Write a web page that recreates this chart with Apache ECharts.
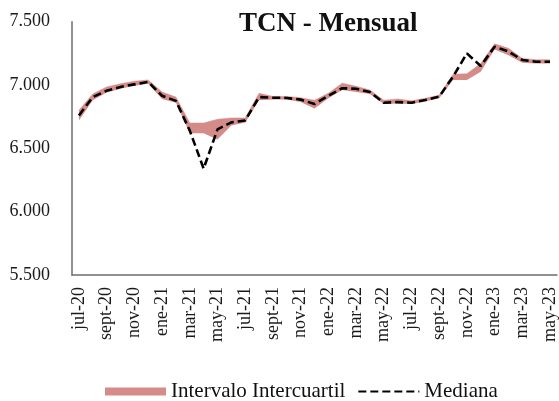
<!DOCTYPE html>
<html>
<head>
<meta charset="utf-8">
<script src="https://cdn.jsdelivr.net/npm/echarts@6/dist/echarts.min.js"></script>
<style>
  html, body { margin: 0; padding: 0; background: #fff; }
  #chart { width: 559px; height: 401px; }
</style>
</head>
<body>
<div id="chart"></div>
<script>
// meses (se muestra uno de cada dos)
const months = ['jul-20', 'ago-20', 'sept-20', 'oct-20', 'nov-20', 'dic-20',
  'ene-21', 'feb-21', 'mar-21', 'abr-21', 'may-21', 'jun-21',
  'jul-21', 'ago-21', 'sept-21', 'oct-21', 'nov-21', 'dic-21',
  'ene-22', 'feb-22', 'mar-22', 'abr-22', 'may-22', 'jun-22',
  'jul-22', 'ago-22', 'sept-22', 'oct-22', 'nov-22', 'dic-22',
  'ene-23', 'feb-23', 'mar-23', 'abr-23', 'may-23'];

// percentil 25 y 75
const lower = [6720, 6880, 6940, 6970, 6995, 7010, 6890, 6860, 6620, 6620, 6570, 6680,
  6705, 6880, 6885, 6885, 6865, 6815, 6895, 6960, 6945, 6930, 6850, 6855,
  6850, 6870, 6895, 7040, 7040, 7105, 7280, 7235, 7175, 7170, 7170];
const upper = [6800, 6930, 6985, 7010, 7030, 7040, 6945, 6905, 6700, 6700, 6730, 6740,
  6740, 6935, 6910, 6910, 6900, 6880, 6935, 7015, 6990, 6960, 6880, 6890,
  6875, 6895, 6920, 7085, 7090, 7170, 7325, 7290, 7210, 7200, 7200];
const median = [6760, 6905, 6955, 6985, 7005, 7025, 6915, 6875, 6640, 6340, 6650, 6705,
  6720, 6905, 6900, 6898, 6885, 6850, 6915, 6975, 6970, 6945, 6860, 6865,
  6860, 6882, 6908, 7066, 7250, 7150, 7303, 7265, 7198, 7184, 7184];

const yTicks = [5500, 6000, 6500, 7000, 7500];

const bandColor = '#d58b88';
const font = '"Liberation Serif", "DejaVu Serif", serif';

const width = upper.map((v, i) => v - lower[i]);

const myChart = echarts.init(document.getElementById('chart'));
myChart.setOption({
  animation: false,
  title: {
    text: 'TCN - Mensual',
    left: 234,
    top: 6,
    textStyle: { fontFamily: font, fontSize: 27, fontWeight: 'bold', color: '#111' }
  },
  legend: {
    left: 100,
    top: 376,
    itemWidth: 61,
    itemHeight: 8,
    itemGap: 12,
    textStyle: { fontFamily: font, fontSize: 21, color: '#111' },
    data: [
      { name: 'Intervalo Intercuartil', icon: 'rect' },
      { name: 'Mediana', itemStyle: { opacity: 0 } }
    ]
  },
  grid: { left: 72, right: 1, top: 21.7, bottom: 126 },
  xAxis: {
    type: 'category',
    data: months,
    boundaryGap: true,
    axisLine: { lineStyle: { color: '#6e6e6e', width: 1.5 } },
    axisTick: { show: false },
    axisLabel: {
      interval: 1,
      rotate: 90,
      margin: 12,
      fontFamily: font,
      fontSize: 18,
      color: '#1a1a1a'
    }
  },
  yAxis: {
    type: 'value',
    min: yTicks[0],
    max: yTicks[yTicks.length - 1],
    interval: 500,
    splitLine: { show: false },
    axisLine: { show: true, lineStyle: { color: '#6e6e6e', width: 1.5 } },
    axisTick: { show: false },
    axisLabel: {
      margin: 22,
      fontFamily: font,
      fontSize: 18,
      color: '#1a1a1a',
      formatter: v => v.toString().replace(/\B(?=(\d{3})+(?!\d))/g, '.')
    }
  },
  series: [
    {
      name: 'base',
      type: 'line',
      stack: 'band',
      data: lower,
      symbol: 'none',
      lineStyle: { opacity: 0 },
      silent: true
    },
    {
      name: 'Intervalo Intercuartil',
      type: 'line',
      stack: 'band',
      data: width,
      symbol: 'none',
      itemStyle: { color: bandColor },
      lineStyle: { width: 0.5, color: bandColor },
      areaStyle: { color: bandColor, opacity: 1 }
    },
    {
      name: 'Mediana',
      type: 'line',
      data: median,
      symbol: 'none',
      itemStyle: { color: '#000' },
      lineStyle: { color: '#000', width: 2.6, type: [8, 4] },
      z: 5
    }
  ]
});
</script>
</body>
</html>
